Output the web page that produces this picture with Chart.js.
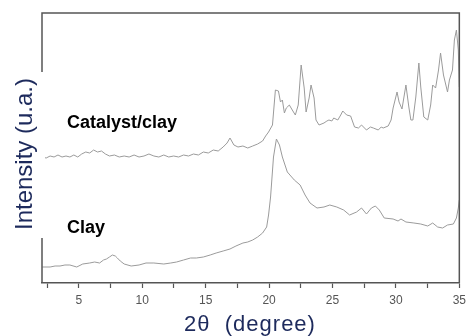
<!DOCTYPE html>
<html>
<head>
<meta charset="utf-8">
<script src="https://cdn.jsdelivr.net/npm/chart.js@4.4.0/dist/chart.umd.min.js"></script>
<style>
    html, body { margin: 0; padding: 0; background: #fff; }
    #wrap { width: 471px; height: 336px; }
</style>
</head>
<body>
<div id="wrap"><canvas id="xrdChart" width="471" height="336"></canvas></div>
<script>
// XRD patterns (2θ in degrees, intensity in arbitrary units)
const catalystX = [2.12, 2.43, 2.74, 3.05, 3.36, 3.68, 3.99, 4.30, 4.61, 4.92, 5.23, 5.55, 5.86, 6.17, 6.48, 6.79, 7.10, 7.42, 7.81, 8.19,
    8.58, 8.97, 9.36, 9.75, 10.14, 10.53, 10.92, 11.31, 11.70, 12.09, 12.48, 12.87, 13.26, 13.65, 14.04, 14.43, 14.82, 15.21, 15.60, 15.99,
    16.38, 16.69, 16.92, 17.23, 17.55, 17.94, 18.32, 18.71, 19.10, 19.49, 19.73, 19.96, 20.27, 20.50, 20.74, 20.90, 21.05, 21.21, 21.36, 21.60,
    21.83, 22.07, 22.30, 22.53, 22.77, 22.92, 23.16, 23.31, 23.55, 23.70, 23.94, 24.33, 24.56, 24.72, 24.95, 25.10, 25.42, 25.65, 25.81, 26.12,
    26.43, 26.74, 27.05, 27.29, 27.68, 27.99, 28.22, 28.61, 28.84, 29.00, 29.39, 29.62, 29.78, 30.09, 30.25, 30.48, 30.79, 31.02, 31.18, 31.34,
    31.57, 31.81, 31.96, 32.20, 32.51, 32.74, 32.90, 33.13, 33.36, 33.52, 33.75, 34.07, 34.22, 34.46, 34.61, 34.77, 34.92, 35.00];
const catalystY = [126, 125, 127, 126, 128, 126, 127, 126, 128, 126, 129, 131, 130, 133, 131, 132, 129, 127, 128, 126,
    127, 126, 128, 126, 127, 129, 127, 126, 128, 126, 127, 126, 128, 127, 129, 128, 131, 130, 133, 132,
    136, 140, 145, 138, 136, 137, 135, 137, 139, 142, 147, 151, 158, 193, 192, 181, 183, 170, 175, 178,
    173, 168, 178, 218, 195, 171, 185, 198, 185, 163, 158, 160, 162, 163, 162, 165, 163, 168, 172, 168,
    167, 156, 155, 158, 153, 156, 155, 153, 156, 155, 157, 163, 175, 191, 181, 174, 198, 176, 163, 163,
    186, 220, 196, 166, 163, 178, 198, 195, 213, 230, 208, 191, 203, 213, 243, 253, 233, 196];

const clayX = [2.12, 2.74, 3.13, 3.52, 3.91, 4.30, 4.84, 5.31, 5.86, 6.25, 6.64, 6.95, 7.18, 7.42, 7.65, 7.88, 8.04, 8.27, 8.58, 9.13,
    9.75, 10.30, 10.92, 11.70, 12.25, 12.71, 13.26, 13.81, 14.27, 14.82, 15.36, 15.83, 16.38, 16.92, 17.39, 17.94, 18.32, 18.71, 19.10, 19.49,
    19.81, 19.96, 20.12, 20.35, 20.58, 20.82, 21.05, 21.44, 21.99, 22.45, 22.84, 23.23, 23.78, 24.33, 24.79, 25.34, 25.88, 26.35, 26.90, 27.29,
    27.68, 28.07, 28.38, 28.69, 29.08, 29.78, 30.17, 30.40, 30.79, 31.42, 31.96, 32.51, 32.90, 33.29, 33.68, 34.07, 34.53, 34.77, 34.92, 35.00];
const clayY = [16, 16, 17, 17, 18, 18, 16, 19, 20, 21, 20, 23, 24, 26, 28, 27, 25, 22, 19, 17,
    18, 20, 20, 19, 20, 21, 23, 25, 25, 26, 28, 30, 32, 34, 37, 40, 41, 43, 46, 50,
    56, 68, 86, 126, 144, 138, 126, 111, 103, 98, 88, 80, 75, 76, 78, 76, 73, 68, 71, 75,
    69, 75, 77, 73, 65, 64, 62, 64, 61, 60, 59, 57, 60, 56, 55, 58, 59, 65, 75, 83];

const tickValues = [2.5, 5, 7.5, 10, 12.5, 15, 17.5, 20, 22.5, 25, 27.5, 30, 32.5, 35];
const seriesLabels = ['Catalyst/clay', 'Clay'];

const STYLE = {
    line: '#9b9b9b',
    axis: '#555555',
    tickText: '#555555',
    title: '#1d2a5c',
    font: '"Liberation Sans", Arial, sans-serif'
};

function toPoints(xs, ys) {
    return xs.map((x, i) => ({ x: x, y: ys[i] }));
}

// frame, masked y title and curve labels
const decorPlugin = {
    id: 'decor',
    afterDatasetsDraw(chart) {
        const ctx = chart.ctx;
        const a = chart.chartArea;
        ctx.save();
        ctx.strokeStyle = STYLE.axis;
        ctx.lineWidth = 1.5;
        ctx.beginPath();
        ctx.moveTo(a.left, a.bottom);
        ctx.lineTo(a.left, a.top);
        ctx.lineTo(a.right, a.top);
        ctx.lineTo(a.right, a.bottom);
        ctx.stroke();

        // white patch the y title sits on
        ctx.fillStyle = '#fff';
        ctx.fillRect(0, 72, a.left + 3, 166);

        ctx.fillStyle = STYLE.title;
        ctx.font = '24px ' + STYLE.font;
        ctx.textAlign = 'center';
        ctx.textBaseline = 'alphabetic';
        ctx.save();
        ctx.translate(32, 154);
        ctx.rotate(-Math.PI / 2);
        ctx.fillText('Intensity (u.a.)', 0, 0);
        ctx.restore();

        ctx.letterSpacing = '1px';
        ctx.font = '22px ' + STYLE.font;
        ctx.fillText('2θ  (degree)', 250, 331);
        ctx.letterSpacing = '0px';

        ctx.fillStyle = '#000';
        ctx.font = 'bold 18px ' + STYLE.font;
        ctx.textAlign = 'left';
        ctx.fillText(seriesLabels[0], 67, 128);
        ctx.fillText(seriesLabels[1], 67, 233);
        ctx.restore();
    }
};

new Chart(document.getElementById('xrdChart').getContext('2d'), {
    type: 'line',
    data: {
        datasets: [{
            label: seriesLabels[0],
            data: toPoints(catalystX, catalystY),
            borderColor: STYLE.line,
            borderWidth: 1,
            pointRadius: 0,
            tension: 0
        }, {
            label: seriesLabels[1],
            data: toPoints(clayX, clayY),
            borderColor: STYLE.line,
            borderWidth: 1,
            pointRadius: 0,
            tension: 0
        }]
    },
    options: {
        responsive: false,
        animation: false,
        layout: { padding: { left: 42, right: 7, top: 13, bottom: 0 } },
        plugins: {
            legend: { display: false },
            tooltip: { enabled: false }
        },
        scales: {
            x: {
                type: 'linear',
                min: 2.1,
                max: 35,
                afterBuildTicks: (scale) => {
                    scale.ticks = tickValues.map(v => ({ value: v }));
                },
                afterFit: (scale) => { scale.height = 53; },
                ticks: {
                    color: STYLE.tickText,
                    font: { family: STYLE.font, size: 12 },
                    padding: 5,
                    maxRotation: 0,
                    autoSkip: false,
                    callback: (v) => (v % 5 === 0 ? String(v) : '')
                },
                grid: {
                    drawOnChartArea: false,
                    drawTicks: true,
                    tickLength: 5,
                    tickColor: STYLE.axis,
                    tickWidth: 1.2
                },
                border: { display: true, color: STYLE.axis, width: 1.5 }
            },
            y: {
                display: false,
                min: 0,
                max: 270
            }
        }
    },
    plugins: [decorPlugin]
});
</script>
</body>
</html>
